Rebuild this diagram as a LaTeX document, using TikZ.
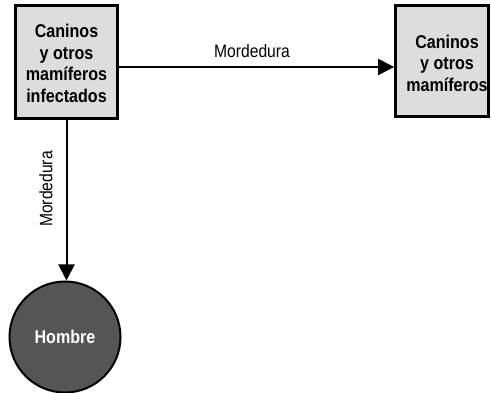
\documentclass[tikz,border=0pt]{standalone}
\usepackage{fontspec}
\setmainfont[FakeStretch=0.87]{Liberation Sans}
\usetikzlibrary{arrows.meta}
\definecolor{boxgray}{RGB}{221,221,221}
\definecolor{hostgray}{RGB}{85,85,85}
\begin{document}
\begin{tikzpicture}[x=1pt,y=-1pt,
  box/.style={rectangle, draw=black, line width=2.6pt, fill=boxgray, inner sep=0pt},
  boxtext/.style={inner sep=0pt, align=center, font=\fontsize{18.5}{21.5}\selectfont\bfseries},
  host/.style={circle, draw=black, line width=2pt, fill=hostgray, inner sep=0pt,
    minimum size=111pt, text=white, font=\fontsize{18.5}{21.5}\selectfont\bfseries},
  link/.style={line width=2pt, -{Triangle[length=16pt,width=16pt]}},
  linklabel/.style={inner sep=0pt, font=\fontsize{18}{21.5}\selectfont}]
\useasboundingbox (0,0) rectangle (491,393);
\node[box, minimum width=102pt, minimum height=113pt] (src) at (66.5,62) {};
\node[boxtext] (srctext) at (66.5,63.5) {Caninos\\y otros\\mamíferos\\infectados};
\node[box, minimum width=93pt, minimum height=111pt] (dst) at (442,61) {};
\node[boxtext] (dsttext) at (447,63) {Caninos\\y otros\\mamíferos};
\node[host] (man) at (65,337) {Hombre};
\coordinate (srcE) at (src.east |- 0,67);
\coordinate (dstW) at (dst.west |- 0,67);
\draw[link] (srcE) -- (dstW);
\coordinate (srcS) at (66.5,119);
\draw[link] (srcS) -- (srcS |- man.north);
\node[linklabel] (lbl1) at (252,51) {Mordedura};
\node[linklabel, rotate=90] (lbl2) at (46,189) {Mordedura};
\end{tikzpicture}
\end{document}
